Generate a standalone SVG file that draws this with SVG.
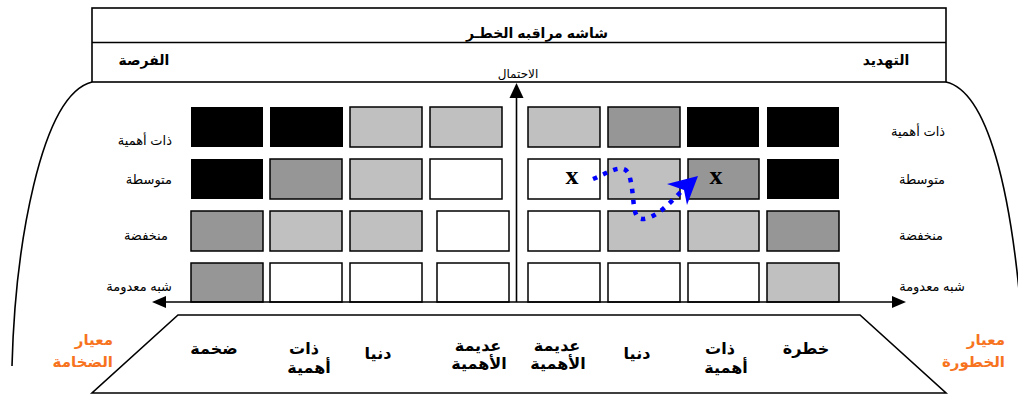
<svg xmlns="http://www.w3.org/2000/svg" width="1018" height="394" viewBox="0 0 1018 394">
<defs>
<style>
.ln{fill:none;stroke:#000;stroke-width:1.6}
.c{stroke:#000;stroke-width:1.5}
.w{fill:#fff}
.l{fill:#c0c0c0}
.d{fill:#969696}
.k{fill:#000;stroke:none}
.t{font-family:'Liberation Sans','DejaVu Sans',sans-serif;font-size:13px;fill:#000}
.b{font-family:'Liberation Sans','DejaVu Sans',sans-serif;font-size:16px;font-weight:bold;fill:#000}
.h{font-family:'Liberation Sans','DejaVu Sans',sans-serif;font-size:14px;font-weight:bold;fill:#000}
.o{font-family:'Liberation Sans','DejaVu Sans',sans-serif;font-size:15px;font-weight:bold;fill:#f7731e}
.x{font-family:'Liberation Serif','DejaVu Serif',serif;font-size:26px;font-weight:bold;fill:#000}
</style>
</defs>
<rect width="1018" height="394" fill="#fff"/>
<g id="frame">
<rect x="92" y="8" width="854" height="74" class="ln"/>
<line x1="92" y1="42.5" x2="946" y2="42.5" class="ln"/>
<path d="M92,82 C40,95 15,250 12,366" class="ln"/>
<path d="M946,82 C990,92 1010,200 1019,290" class="ln"/>
<path d="M178,315 L860,315 L946,393 L92,393 Z" class="ln"/>
<text x="537" y="38" text-anchor="middle" class="h">شاشه مراقبه الخطـر</text>
<text x="144" y="65" text-anchor="middle" class="h">الفرصة</text>
<text x="886" y="65" text-anchor="middle" class="h">التهديد</text>
<text x="518" y="78" text-anchor="middle" class="t" style="font-size:12px">الاحتمال</text>
</g>
<g id="grid-left">
<rect x="191" y="107" width="72" height="40" class="k"/>
<rect x="270" y="107" width="73" height="40" class="k"/>
<rect x="350" y="107" width="72" height="40" class="c l"/>
<rect x="430" y="107" width="72" height="40" class="c l"/>
<rect x="191" y="159" width="72" height="40" class="k"/>
<rect x="270" y="159" width="72" height="40" class="c d"/>
<rect x="350" y="159" width="72" height="40" class="c l"/>
<rect x="430" y="159" width="72" height="40" class="c w"/>
<rect x="191" y="211" width="72" height="40" class="c d"/>
<rect x="270" y="211" width="72" height="40" class="c l"/>
<rect x="350" y="211" width="72" height="40" class="c l"/>
<rect x="437" y="211" width="72" height="40" class="c w"/>
<rect x="191" y="263" width="72" height="39" class="c d"/>
<rect x="270" y="263" width="72" height="39" class="c w"/>
<rect x="350" y="263" width="72" height="39" class="c w"/>
<rect x="437" y="263" width="72" height="39" class="c w"/>
</g>
<g id="grid-right">
<rect x="528" y="107" width="72" height="40" class="c l"/>
<rect x="608" y="107" width="72" height="40" class="c d"/>
<rect x="687" y="107" width="72" height="40" class="k"/>
<rect x="767" y="107" width="72" height="40" class="k"/>
<rect x="528" y="159" width="72" height="40" class="c w"/>
<rect x="608" y="159" width="72" height="40" class="c l"/>
<rect x="688" y="159" width="71" height="40" class="c d"/>
<rect x="767" y="159" width="72" height="40" class="k"/>
<rect x="528" y="211" width="72" height="40" class="c w"/>
<rect x="608" y="211" width="72" height="40" class="c l"/>
<rect x="688" y="211" width="71" height="40" class="c l"/>
<rect x="767" y="211" width="72" height="40" class="c d"/>
<rect x="528" y="263" width="72" height="39" class="c w"/>
<rect x="608" y="263" width="72" height="39" class="c w"/>
<rect x="688" y="263" width="71" height="39" class="c w"/>
<rect x="767" y="263" width="72" height="39" class="c l"/>
<text x="572" y="184" text-anchor="middle" class="x">x</text>
<text x="716" y="184" text-anchor="middle" class="x">x</text>
</g>
<g id="connectors">
<line x1="516.5" y1="302" x2="516.5" y2="96" class="ln"/>
<polygon points="516.5,83 509.5,98 523.5,98" fill="#000"/>
<line x1="164" y1="302" x2="894" y2="302" class="ln"/>
<polygon points="152,302 166,296 166,308" fill="#000"/>
<polygon points="906,302 892,296 892,308" fill="#000"/>
<path d="M593,179 C610,172 626,160 630,178 C636,202 630,224 648,218 C662,213 672,200 682,191" fill="none" stroke="#0000ff" stroke-width="4.5" stroke-dasharray="4.5 6.5"/>
<polygon points="698,176 667,184 684,190 687,205" fill="#0000ff"/>
</g>
<g id="labels-left">
<text x="172" y="145" text-anchor="end" class="t">ذات أهمية</text>
<text x="172" y="184" text-anchor="end" class="t">متوسطة</text>
<text x="168" y="240" text-anchor="end" class="t">منخفضة</text>
<text x="172" y="291" text-anchor="end" class="t">شبه معدومة</text>
</g>
<g id="labels-right">
<text x="918" y="136" text-anchor="middle" class="t">ذات أهمية</text>
<text x="922" y="184" text-anchor="middle" class="t">متوسطة</text>
<text x="921" y="240" text-anchor="middle" class="t">منخفضة</text>
<text x="932" y="291" text-anchor="middle" class="t">شبه معدومة</text>
</g>
<g id="scale-left">
<text x="113" y="345" text-anchor="end" class="o">معيار</text>
<text x="113" y="367" text-anchor="end" class="o">الضخامة</text>
<text x="214" y="354" text-anchor="middle" class="b">ضخمة</text>
<text x="304" y="354" text-anchor="middle" class="b">ذات</text>
<text x="309" y="373" text-anchor="middle" class="b">أهمية</text>
<text x="378" y="359" text-anchor="middle" class="b">دنيا</text>
<text x="478" y="351" text-anchor="middle" class="b">عديمة</text>
<text x="479" y="369" text-anchor="middle" class="b">الأهمية</text>
</g>
<g id="scale-right">
<text x="1005" y="345" text-anchor="end" class="o">معيار</text>
<text x="1005" y="367" text-anchor="end" class="o">الخطورة</text>
<text x="557" y="351" text-anchor="middle" class="b">عديمة</text>
<text x="558" y="369" text-anchor="middle" class="b">الأهمية</text>
<text x="637" y="359" text-anchor="middle" class="b">دنيا</text>
<text x="720" y="354" text-anchor="middle" class="b">ذات</text>
<text x="726" y="373" text-anchor="middle" class="b">أهمية</text>
<text x="806" y="354" text-anchor="middle" class="b">خطرة</text>
</g>
</svg>
